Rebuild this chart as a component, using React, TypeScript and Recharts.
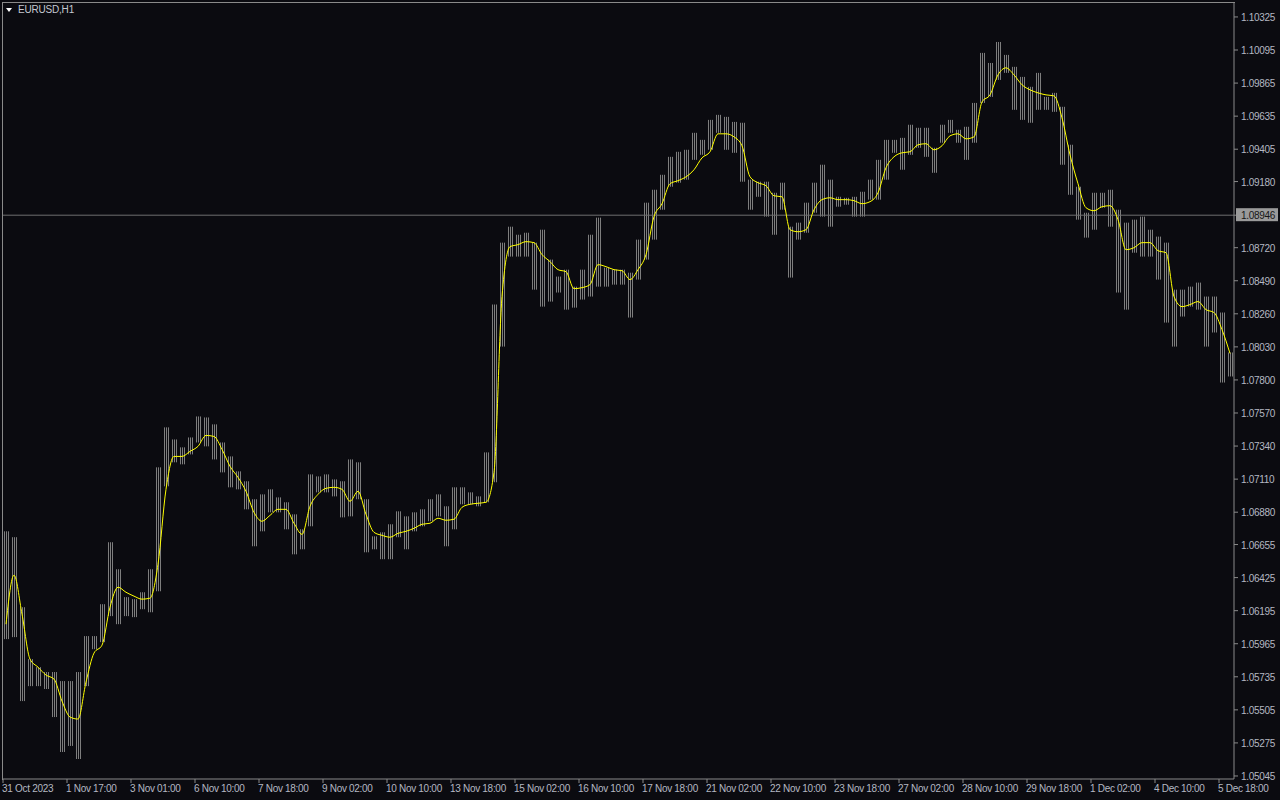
import { ComposedChart, Bar, Line, XAxis, YAxis, ReferenceLine } from "recharts";

// EURUSD H1, each row = 4 hourly bars (high / low of the group) + moving average
const timeLabels = [
  "31 Oct 2023", "1 Nov 17:00", "3 Nov 01:00", "6 Nov 10:00", "7 Nov 18:00",
  "9 Nov 02:00", "10 Nov 10:00", "13 Nov 18:00", "15 Nov 02:00", "16 Nov 10:00",
  "17 Nov 18:00", "21 Nov 02:00", "22 Nov 10:00", "23 Nov 18:00", "27 Nov 02:00",
  "28 Nov 10:00", "29 Nov 18:00", "1 Dec 02:00", "4 Dec 10:00", "5 Dec 18:00",
];

const highs = [
  1.06747, 1.06706, 1.06219, 1.05858, 1.05802, 1.05768, 1.05768, 1.05705, 1.05705, 1.05768,
  1.06018, 1.06018, 1.06240, 1.06671, 1.06483, 1.06289, 1.06275, 1.06323, 1.06483, 1.07192,
  1.07470, 1.07386, 1.07331, 1.07400, 1.07546, 1.07539, 1.07491, 1.07365, 1.07268, 1.07164,
  1.07095, 1.06970, 1.07004, 1.07039, 1.06983, 1.06949, 1.06865, 1.06761, 1.07143, 1.07129,
  1.07143, 1.07108, 1.07095, 1.07247, 1.07227, 1.06970, 1.06712, 1.06740, 1.06796, 1.06886,
  1.06851, 1.06879, 1.06900, 1.06970, 1.07004, 1.06921, 1.07053, 1.07053, 1.07018, 1.06990,
  1.07296, 1.08324, 1.08755, 1.08866, 1.08810, 1.08824, 1.08755, 1.08845, 1.08637, 1.08519,
  1.08567, 1.08449, 1.08567, 1.08810, 1.08929, 1.08581, 1.08567, 1.08567, 1.08546, 1.08776,
  1.09033, 1.09123, 1.09227, 1.09352, 1.09387, 1.09401, 1.09519, 1.09470, 1.09609, 1.09644,
  1.09630, 1.09595, 1.09589, 1.09193, 1.09179, 1.09179, 1.09102, 1.09172, 1.08866, 1.08894,
  1.09033, 1.09172, 1.09297, 1.09193, 1.09074, 1.09067, 1.09074, 1.09109, 1.09193, 1.09331,
  1.09470, 1.09470, 1.09484, 1.09575, 1.09554, 1.09554, 1.09415, 1.09575, 1.09609, 1.09540,
  1.09561, 1.09727, 1.10075, 1.10005, 1.10151, 1.10061, 1.09978, 1.09908, 1.09839, 1.09936,
  1.09769, 1.09797, 1.09700, 1.09436, 1.09144, 1.08963, 1.09102, 1.09102, 1.09123, 1.08984,
  1.08894, 1.08915, 1.08936, 1.08845, 1.08797, 1.08755, 1.08428, 1.08428, 1.08449, 1.08477,
  1.08380, 1.08380, 1.08269, 1.07991,
];

const lows = [
  1.05997, 1.06011, 1.05566, 1.05670, 1.05670, 1.05650, 1.05455, 1.05212, 1.05254, 1.05163,
  1.05670, 1.05927, 1.05976, 1.06157, 1.06101, 1.06157, 1.06150, 1.06205, 1.06184, 1.06330,
  1.07060, 1.07227, 1.07213, 1.07282, 1.07365, 1.07338, 1.07247, 1.07157, 1.07053, 1.07039,
  1.06900, 1.06643, 1.06747, 1.06879, 1.06879, 1.06761, 1.06587, 1.06622, 1.06782, 1.07018,
  1.07018, 1.06990, 1.06844, 1.06851, 1.06970, 1.06601, 1.06622, 1.06553, 1.06553, 1.06706,
  1.06622, 1.06747, 1.06782, 1.06817, 1.06851, 1.06643, 1.06761, 1.06935, 1.06935, 1.06921,
  1.06949, 1.07088, 1.08032, 1.08658, 1.08658, 1.08658, 1.08428, 1.08310, 1.08345, 1.08408,
  1.08289, 1.08303, 1.08359, 1.08380, 1.08449, 1.08449, 1.08463, 1.08463, 1.08234, 1.08498,
  1.08637, 1.08776, 1.08984, 1.09144, 1.09172, 1.09193, 1.09331, 1.09366, 1.09401, 1.09519,
  1.09401, 1.09380, 1.09179, 1.08984, 1.09074, 1.08936, 1.08810, 1.08984, 1.08512, 1.08776,
  1.08824, 1.08963, 1.08936, 1.08866, 1.09005, 1.09019, 1.08936, 1.08936, 1.09054, 1.09054,
  1.09193, 1.09380, 1.09262, 1.09366, 1.09415, 1.09352, 1.09241, 1.09450, 1.09519, 1.09450,
  1.09331, 1.09450, 1.09727, 1.09769, 1.09887, 1.09936, 1.09679, 1.09609, 1.09589, 1.09679,
  1.09679, 1.09665, 1.09297, 1.09088, 1.08915, 1.08790, 1.08845, 1.08998, 1.08866, 1.08408,
  1.08289, 1.08685, 1.08658, 1.08658, 1.08498, 1.08199, 1.08032, 1.08241, 1.08310, 1.08289,
  1.08032, 1.08130, 1.07782, 1.07824,
];

const maValues = [
  1.06101, 1.06442, 1.06171, 1.05858, 1.05802, 1.05747, 1.05719, 1.05566, 1.05455, 1.05441,
  1.05698, 1.05900, 1.05955, 1.06219, 1.06358, 1.06323, 1.06296, 1.06275, 1.06282, 1.06518,
  1.07039, 1.07268, 1.07268, 1.07303, 1.07338, 1.07414, 1.07407, 1.07317, 1.07199, 1.07122,
  1.07025, 1.06879, 1.06817, 1.06858, 1.06900, 1.06900, 1.06803, 1.06726, 1.06921, 1.07004,
  1.07046, 1.07053, 1.07039, 1.06956, 1.07025, 1.06865, 1.06740, 1.06719, 1.06706, 1.06733,
  1.06747, 1.06768, 1.06796, 1.06803, 1.06838, 1.06824, 1.06831, 1.06914, 1.06935, 1.06942,
  1.06949, 1.07157, 1.08380, 1.08727, 1.08741, 1.08762, 1.08755, 1.08672, 1.08623, 1.08567,
  1.08553, 1.08435, 1.08442, 1.08463, 1.08602, 1.08588, 1.08567, 1.08560, 1.08498, 1.08567,
  1.08672, 1.08936, 1.09026, 1.09165, 1.09186, 1.09213, 1.09262, 1.09345, 1.09387, 1.09512,
  1.09512, 1.09491, 1.09429, 1.09213, 1.09172, 1.09151, 1.09081, 1.09074, 1.08845, 1.08831,
  1.08845, 1.08984, 1.09054, 1.09067, 1.09054, 1.09054, 1.09047, 1.09026, 1.09040, 1.09102,
  1.09276, 1.09352, 1.09380, 1.09387, 1.09436, 1.09443, 1.09401, 1.09429, 1.09498, 1.09512,
  1.09477, 1.09491, 1.09734, 1.09783, 1.09922, 1.09971, 1.09922, 1.09853, 1.09818, 1.09797,
  1.09783, 1.09776, 1.09623, 1.09366, 1.09165, 1.08998, 1.08977, 1.09005, 1.09012, 1.08915,
  1.08706, 1.08720, 1.08755, 1.08755, 1.08699, 1.08685, 1.08380, 1.08310, 1.08324, 1.08345,
  1.08289, 1.08269, 1.08150, 1.07984,
];

const priceTicks = [
  1.10325, 1.10095, 1.09865, 1.09635, 1.09405, 1.0918, 1.08946, 1.0872, 1.0849, 1.0826,
  1.0803, 1.078, 1.0757, 1.0734, 1.0711, 1.0688, 1.06655, 1.06425, 1.06195, 1.05965,
  1.05735, 1.05505, 1.05275, 1.05045,
];

const lastPrice = 1.08946;

const rows = highs.map((h, i) => ({ idx: i, range: [lows[i], h], ma: maValues[i] }));
const labelEvery = 8;

const BG = "#0b0b10";
const FRAME = "#8a8a8a";
const TEXT = "#b4b8c2";
const FONT = "'Liberation Sans', Arial, sans-serif";

function TimeTick(props: any) {
  const { x, y, payload } = props;
  const label = timeLabels[Math.round(payload.value / labelEvery)];
  return (
    <g>
      <line x1={x - 3} x2={x - 3} y1={y - 4} y2={y} stroke={FRAME} />
      <text x={x - 4} y={y + 9} fill={TEXT} fontSize={10} letterSpacing={-0.3} fontFamily={FONT} textAnchor="start">
        {label}
      </text>
    </g>
  );
}

function PriceTick(props: any) {
  const { x, y, payload } = props;
  const isLast = Math.abs(payload.value - lastPrice) < 1e-7;
  return (
    <g>
      {isLast && <rect x={x - 5} y={y - 7} width={42} height={13} fill="#9a9a9a" />}
      <text x={x} y={y + 4} fill={isLast ? "#161616" : TEXT} fontSize={10} letterSpacing={-0.3} fontFamily={FONT} textAnchor="start">
        {payload.value.toFixed(5)}
      </text>
    </g>
  );
}

export default function App() {
  return (
    <div style={{ position: "absolute", left: 0, top: 0, width: 1280, height: 800, background: BG, overflow: "hidden" }}>
      <ComposedChart width={1280} height={800} data={rows} margin={{ top: 2, right: 0, bottom: 0, left: 2 }}>
        <defs>
          <pattern id="barHatch" width={2} height={4} patternUnits="userSpaceOnUse">
            <rect x={0} y={0} width={1} height={4} fill="#7e7e7e" />
          </pattern>
        </defs>
        <XAxis
          dataKey="idx"
          type="category"
          height={21}
          ticks={timeLabels.map((_, k) => k * labelEvery)}
          interval={0}
          tick={<TimeTick />}
          tickLine={false}
          tickSize={4}
          tickMargin={0}
          axisLine={{ stroke: FRAME }}
        />
        <YAxis
          orientation="right"
          width={46}
          domain={[1.05024, 1.10429]}
          allowDataOverflow
          ticks={priceTicks}
          interval={0}
          tick={<PriceTick />}
          tickSize={4}
          tickMargin={3}
          tickLine={{ stroke: FRAME }}
          axisLine={{ stroke: FRAME }}
        />
        <ReferenceLine y={lastPrice} stroke="#6f6f6f" strokeWidth={1} />
        <Bar dataKey="range" fill="url(#barHatch)" barSize={7} isAnimationActive={false} />
        <Line type="monotone" dataKey="ma" stroke="#ffff00" strokeWidth={1} dot={false} isAnimationActive={false} />
      </ComposedChart>
      <div
        style={{
          position: "absolute", left: 2, top: 2, width: 1232, height: 777,
          borderLeft: `1px solid ${FRAME}`, borderTop: `1px solid ${FRAME}`, pointerEvents: "none",
        }}
      />
      <div style={{ position: "absolute", left: 6, top: 8, width: 0, height: 0, borderLeft: "3px solid transparent", borderRight: "3px solid transparent", borderTop: "4px solid #ffffff" }} />
      <div style={{ position: "absolute", left: 18, top: 3, color: "#c4c8d0", fontSize: 10, letterSpacing: -0.2, fontFamily: FONT, lineHeight: "14px" }}>
        EURUSD,H1
      </div>
    </div>
  );
}
